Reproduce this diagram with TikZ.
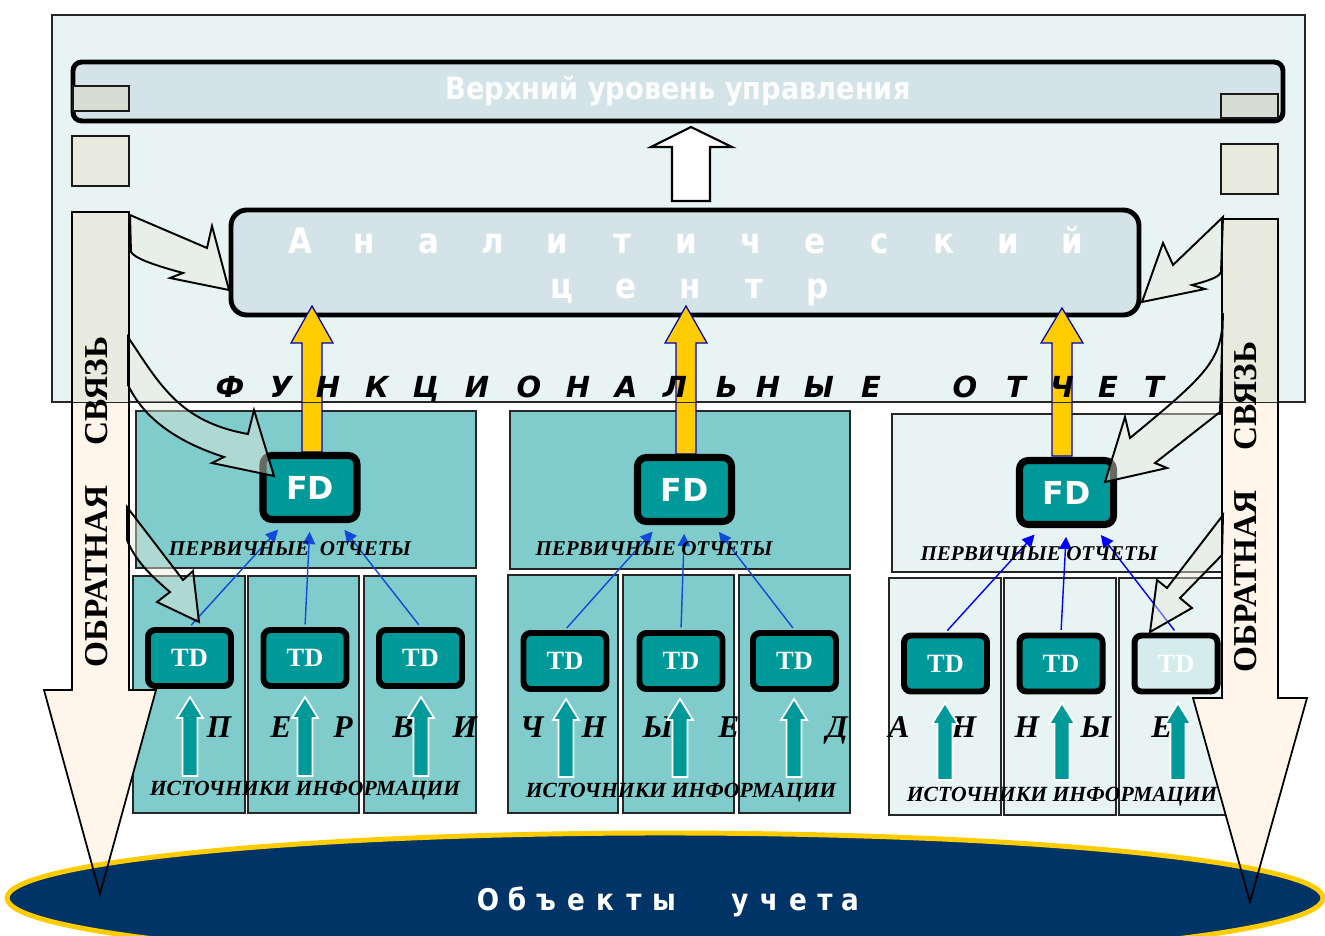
\documentclass[tikz,border=0pt]{standalone}
\usepackage{fontspec}
\setmainfont{Liberation Serif}
\newfontfamily\sansfnt{DejaVu Sans}
\newfontfamily\narrowfnt{DejaVu Sans}[FakeStretch=0.88]
\usetikzlibrary{arrows.meta, positioning, shapes.geometric, fit}

\definecolor{panelbg}{HTML}{E8F4F4}
\definecolor{barbg}{HTML}{D4E3E8}
\definecolor{sqgrey}{HTML}{E8EADD}
\definecolor{sqdark}{HTML}{D8DDD3}
\definecolor{tealL}{HTML}{80CCCC}
\definecolor{tealD}{HTML}{009999}
\definecolor{navy}{HTML}{003366}
\definecolor{gold}{HTML}{FFCC00}
\definecolor{cream}{HTML}{FFF5EA}
\definecolor{linkblue}{HTML}{0E4BD8}
\definecolor{tdpale}{HTML}{D4ECEC}

\begin{document}
\begin{tikzpicture}[
    x=0.02cm, y=-0.02cm,
    panel/.style={draw=black!85, line width=0.8pt, inner sep=0pt},
    bigbar/.style={draw=black, line width=2.8pt, rounded corners=5pt, fill=barbg, inner sep=0pt},
    sq/.style={draw=black!90, line width=1pt, fill=sqgrey, inner sep=0pt},
    cell/.style={draw=black!85, line width=0.9pt, fill=tealL, inner sep=0pt},
    fdbox/.style={draw=black, line width=4pt, rounded corners=5pt, fill=tealD, inner sep=0pt, minimum width=94*0.02cm, minimum height=64*0.02cm, text=white, font=\sansfnt\bfseries\fontsize{18}{18}\selectfont},
    tdbox/.style={draw=black, line width=3.4pt, rounded corners=4pt, fill=tealD, inner sep=0pt, minimum width=83*0.02cm, minimum height=56*0.02cm, text=white, font=\bfseries\fontsize{15}{15}\selectfont},
    link/.style={-{Triangle[length=7pt,width=7pt]}, line width=0.8pt, shorten >=5pt, shorten <=1.5pt},
    goldarrow/.style={fill=gold, draw=blue!70!black, line width=0.7pt},
    srcarrow/.style={fill=tealD, draw=white, line width=1pt},
    fbline/.style={draw=black, line width=1pt, line join=miter},
    callout/.style={draw=black, line width=1.1pt, fill=sqgrey, fill opacity=0.45, line join=miter},
    anlet/.style={text=white, font=\narrowfnt\bfseries\fontsize{20}{20}\selectfont, inner sep=0pt, anchor=base},
    objlet/.style={text=white, font=\narrowfnt\bfseries\fontsize{17}{17}\selectfont, inner sep=0pt, anchor=base},
    funlet/.style={font=\sansfnt\bfseries\itshape\fontsize{16.5}{16.5}\selectfont, inner sep=0pt, anchor=base},
    rowlet/.style={font=\bfseries\itshape\fontsize{18}{18}\selectfont, inner sep=0pt, anchor=base},
    caplabel/.style={font=\bfseries\itshape\fontsize{12}{12}\selectfont, inner sep=0pt},
    srclabel/.style={font=\bfseries\itshape\fontsize{12.3}{12.3}\selectfont, inner sep=0pt},
    fbtext/.style={font=\bfseries\fontsize{19}{19}\selectfont, inner sep=0pt, rotate=90},
  ]
    \useasboundingbox (0,0) rectangle (1325,936);
    \clip (0,0) rectangle (1325,936);

    % Upper panel
    \node[panel, fill=panelbg, fit={(52,15) (1305,402)}] (top) {};
    \node[bigbar, minimum width=1210*0.02cm, minimum height=59*0.02cm, text=white!92!barbg, font=\narrowfnt\bfseries\fontsize{17.6}{17.6}\selectfont] (ctrl) at (678,91.5) {Верхний уровень управления};
    \node[sq, fill=sqdark, fit={(73,86) (129,111)}] (sqA) {};
    \node[sq, fit={(72,136) (129,186)}] (sqB) {};
    \node[sq, fill=sqdark, fit={(1221,94) (1278,118)}] (sqC) {};
    \node[sq, fit={(1221,144) (1278,194)}] (sqD) {};

    \node[bigbar, rounded corners=9pt, fit={(231,210) (1139,315)}] (anc) {};
    \foreach \l [count=\i] in {А,н,а,л,и,т,и,ч,е,с,к,и,й}
      \node[anlet] (ancA\i) at ({300+64.4*(\i-1)},253) {\l};
    \foreach \l [count=\i] in {ц,е,н,т,р}
      \node[anlet] (ancB\i) at ({562+64*(\i-1)},298) {\l};

    \draw[line width=1.2pt, fill=white] (672,201) -- (672,147) -- (651,147) -- (691,127) -- (732,147) -- (710,147) -- (710,201) -- cycle;

    % Lower panels
    \node[cell, fit={(136,411) (476,568)}] (pnlA) {};
    \node[cell, fit={(133,576) (245,813)}] (colA1) {};
    \node[cell, fit={(248,576) (359,813)}] (colA2) {};
    \node[cell, fit={(364,576) (476,813)}] (colA3) {};
    \node[cell, fit={(510,411) (850,569)}] (pnlB) {};
    \node[cell, fit={(508,575) (618,813)}] (colB1) {};
    \node[cell, fit={(623,575) (734,813)}] (colB2) {};
    \node[cell, fit={(739,575) (850,813)}] (colB3) {};
    \node[cell, fill=panelbg, fit={(892,414) (1231,572)}] (pnlC) {};
    \node[cell, fill=panelbg, fit={(889,578) (1001,815)}] (colC1) {};
    \node[cell, fill=panelbg, fit={(1004,578) (1116,815)}] (colC2) {};
    \node[cell, fill=panelbg, fit={(1119,578) (1231,815)}] (colC3) {};

    % Gold arrows
    \foreach \x/\t/\b in {312/306/452, 686/306/454, 1062/308/456}
      \draw[goldarrow] (\x-10,\b) -- (\x-10,343) -- (\x-21,343) -- (\x,\t) -- (\x+21,343) -- (\x+10,343) -- (\x+10,\b) -- cycle;

    % FD and TD
    \node[fdbox] (fdA) at (310,487.5) {FD};
    \node[fdbox] (fdB) at (684.5,489.5) {FD};
    \node[fdbox] (fdC) at (1066.5,492.5) {FD};

    \node[tdbox] (tdA1) at (189.5,658) {TD};
    \node[tdbox] (tdA2) at (305,658) {TD};
    \node[tdbox] (tdA3) at (420.5,658) {TD};
    \node[tdbox] (tdB1) at (565,661) {TD};
    \node[tdbox] (tdB2) at (681,661) {TD};
    \node[tdbox] (tdB3) at (794.5,661) {TD};
    \node[tdbox] (tdC1) at (945.5,663.5) {TD};
    \node[tdbox] (tdC2) at (1061,663.5) {TD};
    \node[tdbox, fill=tdpale, text=white!95!tdpale] (tdC3) at (1176,663.5) {TD};

    \foreach \g/\c in {A/linkblue, B/linkblue, C/blue} {
      \draw[link, \c] (td\g1.north) -- ([xshift=-0.52cm]fd\g.south);
      \draw[link, \c] (td\g2.north) -- (fd\g.south);
      \draw[link, \c] (td\g3.north) -- ([xshift=0.58cm]fd\g.south);
    }

    \node[caplabel] (prA) at (290,549) {ПЕРВИЧНЫЕ\ \ ОТЧЕТЫ};
    \node[caplabel] (prB) at (654,549) {ПЕРВИЧНЫЕ ОТЧЕТЫ};
    \node[caplabel] (prC) at (1039,554) {ПЕРВИЧНЫЕ ОТЧЕТЫ};

    % Primary data row
    \foreach \x/\l [count=\i] in {219/П,281/Е,343/Р,403/В,465/И,532/Ч,594/Н,658/Ы,729/Е,837/Д,899/А,964/Н,1027/Н,1096/Ы,1162/Е}
      \node[rowlet] (pd\i) at (\x,737) {\l};

    \foreach \x/\t/\b in {190/697/776, 305/697/776, 421/697/776, 566/699/777, 680/699/777, 794/699/777, 945/703/780, 1062/703/780, 1178/703/780}
      \draw[srcarrow] (\x-7.5,\b) -- (\x-7.5,\t+21) -- (\x-13,\t+21) -- (\x,\t) -- (\x+13,\t+21) -- (\x+7.5,\t+21) -- (\x+7.5,\b) -- cycle;

    \node[srclabel] (srcA) at (305,791) {ИСТОЧНИКИ ИНФОРМАЦИИ};
    \node[srclabel] (srcB) at (681,793) {ИСТОЧНИКИ ИНФОРМАЦИИ};
    \node[srclabel] (srcC) at (1062,797) {ИСТОЧНИКИ ИНФОРМАЦИИ};

    % Feedback arrows
    \fill[cream] (72,212) -- (129,212) -- (129,690) -- (156,690) -- (100,894) -- (44,690) -- (72,690) -- cycle;
    \fill[cream] (1222,219) -- (1278,219) -- (1278,698) -- (1307,698) -- (1250,902) -- (1193,698) -- (1222,698) -- cycle;
    \begin{scope}
      \clip (52,15) rectangle (1305,402);
      \fill[sqgrey] (72,212) rectangle (129,402);
      \fill[sqgrey] (1222,219) rectangle (1278,402);
    \end{scope}

    \draw[callout] (130,215) -- (207,248) -- (212,226) -- (229,290) -- (170,278) -- (183,273) .. controls (150,264) and (135,258) .. (131,252) -- cycle;
    \draw[callout] (128,337) .. controls (160,385) and (180,422) .. (248,434) -- (254,410) -- (274,476) -- (212,463) -- (224,457) .. controls (165,438) and (140,410) .. (128,385) -- cycle;
    \draw[callout] (127,507) -- (183,580) -- (193,571) -- (199,622) -- (157,602) -- (170,592) .. controls (150,575) and (135,560) .. (127,540) -- cycle;
    \draw[callout] (1223,217) -- (1173,265) -- (1163,243) -- (1142,302) -- (1205,289) -- (1192,285) .. controls (1212,280) and (1220,276) .. (1221,272) -- cycle;
    \draw[callout] (1223,313) .. controls (1222,360) and (1210,372) .. (1130,438) -- (1125,417) -- (1105,482) -- (1167,468) -- (1155,463) -- (1220,412) -- cycle;
    \draw[callout] (1223,515) -- (1167,588) -- (1157,580) -- (1150,632) -- (1192,608) -- (1180,598) -- (1222,555) -- cycle;

    \draw[panel] (top.north west) rectangle (top.south east);

    % Objects
    \node[ellipse, draw=gold, line width=2.8pt, fill=navy, minimum width=1316*0.02cm, minimum height=130*0.02cm, inner sep=0pt] (obj) at (665,898) {};
    \foreach \x/\l [count=\i] in {488/О,517/б,546/ъ,576/е,605/к,634/т,664/ы,740/у,769/ч,798/е,825/т,850/а}
      \node[objlet] (objl\i) at (\x,910) {\l};

    \draw[fbline] (72,212) -- (129,212) -- (129,690) -- (156,690) -- (100,894) -- (44,690) -- (72,690) -- cycle;
    \draw[fbline] (1222,219) -- (1278,219) -- (1278,698) -- (1307,698) -- (1250,902) -- (1193,698) -- (1222,698) -- cycle;

    \node[fbtext] (fbtL) at (97,502) {ОБРАТНАЯ\hspace{1.2em}СВЯЗЬ};
    \node[fbtext] (fbtR) at (1246,507) {ОБРАТНАЯ\hspace{1.2em}СВЯЗЬ};

    % Functional reports
    \foreach \x/\l [count=\i] in {230/Ф,281/У,328/Н,377/К,426/Ц,477/И,529/О,578/Н,626/А,675/Л,727/Ь,768/Н,819/Ы,871/Е,965/О,1016/Т,1062/Ч,1108/Е,1154/Т}
      \node[funlet] (fn\i) at (\x,397) {\l};

  \end{tikzpicture}
\end{document}
